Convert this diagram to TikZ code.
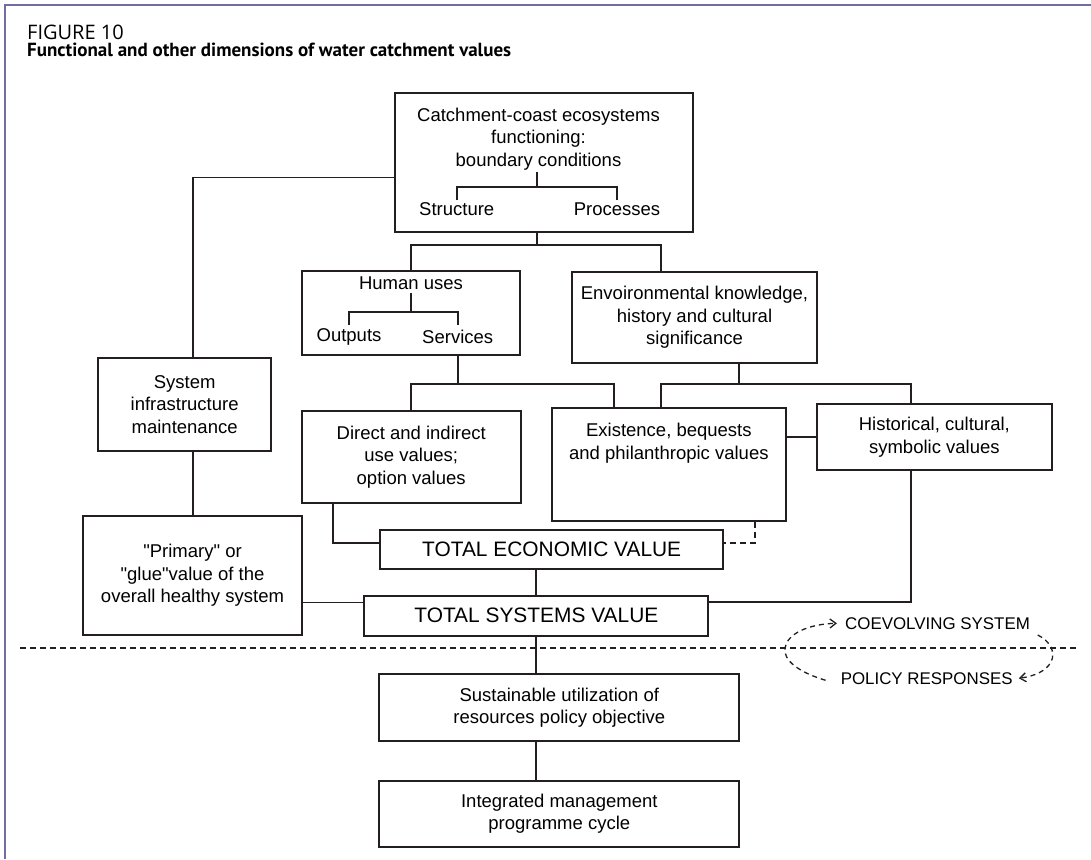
\documentclass[tikz,border=0pt]{standalone}
\usepackage{fontspec}
\setmainfont{Liberation Sans}[Ligatures=TeXOff]
\newfontfamily\headfont{Open Sans}
\newfontfamily\titlefont{PT Sans}
\usetikzlibrary{arrows.meta}
\definecolor{ink}{RGB}{35,31,32}
\definecolor{framec}{RGB}{112,110,158}
\begin{document}
\begin{tikzpicture}[x=1pt,y=-1pt,
  box/.style={draw=ink, line width=1.9pt, inner sep=0pt, align=center,
              font=\fontsize{18.5}{22.5}\selectfont},
  lbl/.style={inner sep=0pt, align=center, font=\fontsize{18.5}{22.5}\selectfont},
  bigbox/.style={box, font=\fontsize{20.9}{24}\selectfont},
  link/.style={draw=ink, line width=1.7pt},
  weak/.style={link, dash pattern=on 6pt off 4pt},
  divider/.style={draw=ink, line width=1.4pt, dash pattern=on 6pt off 4pt},
  cycle/.style={draw=ink, line width=1.3pt, dash pattern=on 5pt off 4pt,
                -{Straight Barb[length=6pt,width=9pt]}},
  small/.style={inner sep=0pt, font=\fontsize{16.9}{20}\selectfont}
]
\useasboundingbox (0,0) rectangle (1091,859);

% open frame
\draw[framec, line width=2pt] (4.5,859) -- (4.5,5.5) -- (1091,5.5);

% heading
\node[anchor=base west, inner sep=0pt, font=\headfont\fontsize{20}{22}\selectfont]
  (fig) at (27,40) {FIGURE 10};
\node[anchor=base west, inner sep=0pt, font=\titlefont\bfseries\fontsize{19}{22}\selectfont]
  (figtitle) at (27,56.5) {Functional and other dimensions of water catchment values};

% boxes
\node[box, minimum width=297.7pt, minimum height=138.7pt] (top) at (543.85,162.35) {};
\node[lbl] (toptext) at (538.5,139) {Catchment-coast ecosystems\\functioning:\\boundary conditions};
\node[lbl] (struct) at (456.7,209) {Structure};
\node[lbl] (proc) at (617,209) {Processes};

\node[box, minimum width=218.3pt, minimum height=84pt] (human) at (410.85,313) {};
\node[lbl] (humantext) at (411,283) {Human uses};
\node[lbl] (outp) at (349,337) {Outputs};
\node[lbl] (serv) at (457.7,337) {Services};

\node[box, minimum width=245pt, minimum height=91.6pt] (env) at (694.5,317.5)
  {Envoironmental knowledge,\\history and cultural\\significance};

\node[box, minimum width=219pt, minimum height=92.3pt] (direct) at (411.2,456.85)
  {Direct and indirect\\use values;\\option values};

\node[box, minimum width=234.3pt, minimum height=112.7pt] (exist) at (668.85,464.35) {};
\node[lbl] (existtext) at (668.85,443) {Existence, bequests\\and philanthropic values};

\node[box, minimum width=234.7pt, minimum height=66pt] (hist) at (934.35,437)
  {Historical, cultural,\\symbolic values};

\node[box, minimum width=172.7pt, minimum height=93pt] (sysinf) at (184.65,404.2)
  {System\\infrastructure\\maintenance};

\node[box, minimum width=219.6pt, minimum height=119.3pt] (primary) at (192.5,575.35)
  {"Primary" or\\"glue"value of the\\overall healthy system};

\node[bigbox, minimum width=343.3pt, minimum height=39.3pt] (tev) at (551.65,549.65)
  {TOTAL ECONOMIC VALUE};
\node[bigbox, minimum width=344pt, minimum height=40pt] (tsv) at (536.3,615.7)
  {TOTAL SYSTEMS VALUE};

\node[box, minimum width=360pt, minimum height=66.4pt] (sust) at (559.3,707.5)
  {Sustainable utilization of\\resources policy objective};
\node[box, minimum width=360pt, minimum height=66pt] (integ) at (559.3,813.7)
  {Integrated management\\programme cycle};

% brackets inside the upper boxes
\coordinate (tb) at (537,187);
\draw[link] (537,172) -- (tb);
\draw[link] ([yshift=9pt]struct.center) |- (tb) -| ([yshift=9pt]proc.center);
\coordinate (hb) at (411,311.7);
\draw[link] (411,293) -- (hb);
\draw[link] ([yshift=12pt]outp.center) |- (hb) -| ([yshift=12pt]serv.center);

% tree connectors
\coordinate (j1) at (537,245);
\draw[link] ([xshift=-6.85pt]top.south) -- (j1);
\draw[link] (human.north) |- (j1) -| ([xshift=-33.5pt]env.north);

\coordinate (j2) at (458,384);
\draw[link] ([xshift=47.15pt]human.south) -- (j2);
\draw[link] (direct.north) |- (j2) -| ([xshift=-54.85pt]exist.north);

\coordinate (j3) at (739,384);
\draw[link] ([xshift=44.5pt]env.south) -- (j3);
\draw[link] ([xshift=-7.85pt]exist.north) |- (j3) -| ([xshift=-23.35pt]hist.north);

\draw[link] (exist.east |- hist.west) -- (hist.west);

\draw[link] ([yshift=-85.3pt]top.north west) -| ([xshift=8.05pt]sysinf.north);
\draw[link] ([xshift=8.05pt]sysinf.south) -- ([xshift=8.05pt]sysinf.south |- primary.north);

\draw[link] ([xshift=-77.9pt]direct.south) |- ([yshift=7pt]tev.west);
\draw[weak] ([xshift=86.15pt]exist.south) |- ([yshift=7pt]tev.east);

\draw[link] (tsv.north |- tev.south) -- (tsv.north);
\draw[link] ([yshift=-27pt]primary.east) -- ([yshift=-27pt]primary.east -| tsv.west);
\draw[link] ([xshift=-23.35pt]hist.south) |- ([yshift=13.4pt]tsv.east);

\draw[link] (tsv.south) -- (tsv.south |- sust.north);
\draw[link] (tsv.south |- sust.south) -- (tsv.south |- integ.north);

% boundary between the system and the policy side
\coordinate (divl) at (20,648);
\coordinate (divr) at (1078,648);
\draw[divider] (divl) -- (divr);

% feedback loop
\node[small] (coev) at (937.5,623.3) {COEVOLVING SYSTEM};
\node[small] (policy) at (926.7,678.3) {POLICY RESPONSES};
\draw[cycle] ([xshift=-15pt,yshift=-2pt]policy.west)
  .. controls (798,672) and (783,660) .. (785,648)
  .. controls (787,634) and (808,624) .. ([xshift=-8pt]coev.west);
\draw[cycle] ([xshift=7.7pt,yshift=-11.7pt]coev.east)
  .. controls (1050,641) and (1056,652) .. (1051,662)
  .. controls (1046,671) and (1035,676) .. ([xshift=6pt]policy.east);
\end{tikzpicture}
\end{document}
